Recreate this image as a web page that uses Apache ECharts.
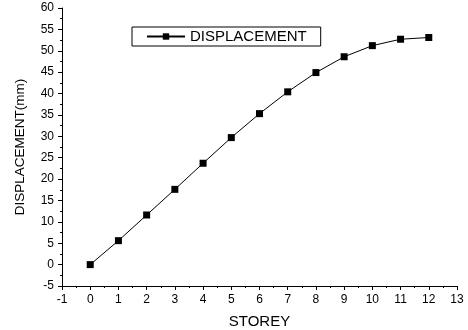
<!DOCTYPE html>
<html>
<head>
<meta charset="utf-8">
<script src="https://cdn.jsdelivr.net/npm/echarts@6/dist/echarts.min.js"></script>
<style>html,body{margin:0;padding:0;background:#fff}#c{width:468px;height:330px}</style>
</head>
<body>
<div id="c"></div>
<script>
const storeys = [0,1,2,3,4,5,6,7,8,9,10,11,12];
const displacement = [0,5.6,11.6,17.6,23.7,29.7,35.3,40.4,44.9,48.6,51.2,52.7,53.1];
const seriesName = 'DISPLACEMENT';
const xAxisName = 'STOREY';
const yAxisName = 'DISPLACEMENT(mm)';

const chart = echarts.init(document.getElementById('c'), null, {renderer:'canvas'});
const font = 'Liberation Sans, Arial, sans-serif';
const axisCommon = {
  axisLine:{show:true,onZero:false,lineStyle:{color:'#000',width:1}},
  axisTick:{show:true,inside:false,length:4,lineStyle:{color:'#000'}},
  minorTick:{show:true,splitNumber:2,length:2,lineStyle:{color:'#000'}},
  splitLine:{show:false},
  axisLabel:{color:'#000',fontFamily:font,fontSize:12}
};
chart.setOption({
  animation:false,
  backgroundColor:'#fff',
  grid:{left:62,right:11,top:8,bottom:44,containLabel:false,outerBoundsMode:'none'},
  legend:{
    left:132,top:27,
    data:[seriesName],
    borderColor:'#000',borderWidth:1,borderRadius:0,
    padding:[2,14,2,14],
    itemWidth:38,itemHeight:8,
    textStyle:{color:'#000',fontFamily:font,fontSize:15}
  },
  xAxis:Object.assign({
    type:'value',min:-1,max:13,interval:1,
    name:xAxisName,nameLocation:'middle',nameGap:28,
    nameTextStyle:{color:'#000',fontFamily:font,fontSize:15}
  },axisCommon),
  yAxis:Object.assign({
    type:'value',min:-5,max:60,interval:5,
    name:yAxisName,nameLocation:'middle',nameGap:35,
    nameTextStyle:{color:'#000',fontFamily:font,fontSize:13.5}
  },axisCommon),
  series:[{
    name:seriesName,type:'line',
    data:storeys.map((s,i)=>[s,displacement[i]]),
    symbol:'rect',symbolSize:7,
    itemStyle:{color:'#000'},
    lineStyle:{color:'#000',width:1}
  }]
});
</script>
</body>
</html>
